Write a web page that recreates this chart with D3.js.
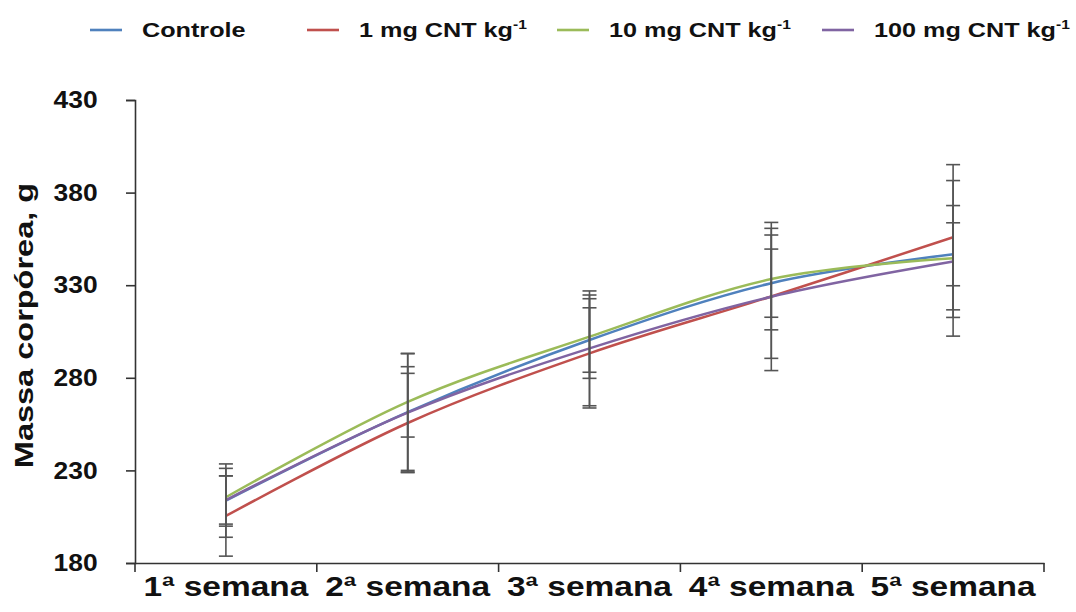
<!DOCTYPE html>
<html>
<head>
<meta charset="utf-8">
<script src="https://cdn.jsdelivr.net/npm/d3@7"></script>
<style>
  html, body { margin: 0; padding: 0; background: #fff; }
  svg { display: block; font-family: "Liberation Sans", Arial, sans-serif; }
</style>
</head>
<body>
<svg id="chart" width="1076" height="612"></svg>
<script>
// Weekly body mass (mean ± SD) per treatment group
const weeks = ["1ª semana", "2ª semana", "3ª semana", "4ª semana", "5ª semana"];
const seriesNames = ["Controle", "1 mg CNT kg", "10 mg CNT kg", "100 mg CNT kg"];
const seriesSup = ["", "-1", "-1", "-1"];
const seriesColors = ["#4F81BD", "#C0504D", "#9BBB59", "#8064A2"];

const controle    = [213.7, 261.5, 300.4, 331.1, 346.7];
const controleSD  = [19.8, 31.5, 17.4, 18.4, 17.0];
const cnt1        = [205.4, 255.6, 293.2, 323.9, 355.9];
const cnt1SD      = [21.7, 26.8, 29.5, 40.0, 39.2];
const cnt10       = [215.5, 267.0, 302.2, 333.3, 344.5];
const cnt10SD     = [15.6, 19.0, 22.5, 27.4, 42.0];
const cnt100      = [214.0, 261.2, 295.9, 323.8, 342.8];
const cnt100SD    = [13.0, 32.0, 31.0, 33.3, 30.2];

const yTicks = [180, 230, 280, 330, 380, 430];
const yTitle = "Massa corpórea, g";

const means = [controle, cnt1, cnt10, cnt100];
const sds = [controleSD, cnt1SD, cnt10SD, cnt100SD];

const svg = d3.select("#chart");
svg.append("rect").attr("width", 1076).attr("height", 612).attr("fill", "#fff");

const x = d3.scaleBand().domain(weeks).range([135, 1044]);
const y = d3.scaleLinear().domain([180, 430]).range([563, 100]);

const axisColor = "#333";
const textColor = "#111";

// Y axis
const gy = svg.append("g")
  .attr("transform", `translate(${x.range()[0]},0)`)
  .call(d3.axisLeft(y).tickValues(yTicks).tickSize(9).tickPadding(25).tickFormat(d3.format("d")));
gy.select(".domain").attr("stroke", axisColor).attr("stroke-width", 1.6);
gy.selectAll(".tick line").attr("stroke", axisColor).attr("stroke-width", 1.6);
gy.selectAll(".tick text")
  .attr("fill", textColor)
  .attr("font-size", 24)
  .attr("font-weight", "bold")
  .attr("transform", "scale(1.1,1)");

// X axis: labels centred in bands, ticks at band boundaries
const gx = svg.append("g")
  .attr("transform", `translate(0,${y.range()[0]})`)
  .call(d3.axisBottom(x).tickSize(0).tickPadding(14));
gx.select(".domain").attr("stroke", axisColor).attr("stroke-width", 1.6);
gx.selectAll(".tick text")
  .attr("fill", textColor)
  .attr("font-size", 27)
  .attr("font-weight", "bold")
  .attr("transform", "scale(1.24,1)");

const boundaries = weeks.map(w => x(w)).concat([x.range()[1]]);
gx.selectAll("line.boundary")
  .data(boundaries)
  .join("line")
  .attr("class", "boundary")
  .attr("x1", d => d).attr("x2", d => d)
  .attr("y1", 0).attr("y2", 9)
  .attr("stroke", axisColor).attr("stroke-width", 1.6);

// Y axis title
svg.append("text")
  .attr("transform", `translate(33,${(y.range()[0] + y.range()[1]) / 2 - 6}) rotate(-90) scale(1.3,1)`)
  .attr("text-anchor", "middle")
  .attr("font-size", 25)
  .attr("font-weight", "bold")
  .attr("fill", textColor)
  .text(yTitle);

// Series lines (smoothed)
const line = d3.line()
  .x((d, i) => x(weeks[i]) + x.bandwidth() / 2)
  .y(d => y(d))
  .curve(d3.curveCatmullRom.alpha(0));

svg.append("g")
  .selectAll("path")
  .data(means)
  .join("path")
  .attr("d", d => line(d))
  .attr("fill", "none")
  .attr("stroke", (d, i) => seriesColors[i])
  .attr("stroke-width", 2.5)
  .attr("stroke-linejoin", "round");

// Error bars
const errColor = "#555";
const capHalf = 7;
const errG = svg.append("g");
means.forEach((vals, s) => {
  vals.forEach((v, i) => {
    const cx = x(weeks[i]) + x.bandwidth() / 2;
    const lo = v - sds[s][i], hi = v + sds[s][i];
    errG.append("line")
      .attr("x1", cx).attr("x2", cx)
      .attr("y1", y(lo)).attr("y2", y(hi))
      .attr("stroke", errColor).attr("stroke-width", 1.6);
    [lo, hi].forEach(e => {
      errG.append("line")
        .attr("x1", cx - capHalf).attr("x2", cx + capHalf)
        .attr("y1", y(e)).attr("y2", y(e))
        .attr("stroke", errColor).attr("stroke-width", 1.6);
    });
  });
});

// Legend
const legendSwatchX = [90, 307, 557, 822];
const legendY = 30;
const legend = svg.append("g");
seriesNames.forEach((name, i) => {
  const gx0 = legendSwatchX[i];
  legend.append("line")
    .attr("x1", gx0).attr("x2", gx0 + 32)
    .attr("y1", legendY).attr("y2", legendY)
    .attr("stroke", seriesColors[i]).attr("stroke-width", 2.6);
  const t = legend.append("text")
    .attr("transform", `translate(${gx0 + 52},${legendY + 7}) scale(1.2,1)`)
    .attr("font-size", 21)
    .attr("font-weight", "bold")
    .attr("fill", textColor);
  t.append("tspan").text(name);
  if (seriesSup[i]) {
    t.append("tspan")
      .attr("font-size", 13)
      .attr("dy", -8)
      .text(seriesSup[i]);
  }
});
</script>
</body>
</html>
